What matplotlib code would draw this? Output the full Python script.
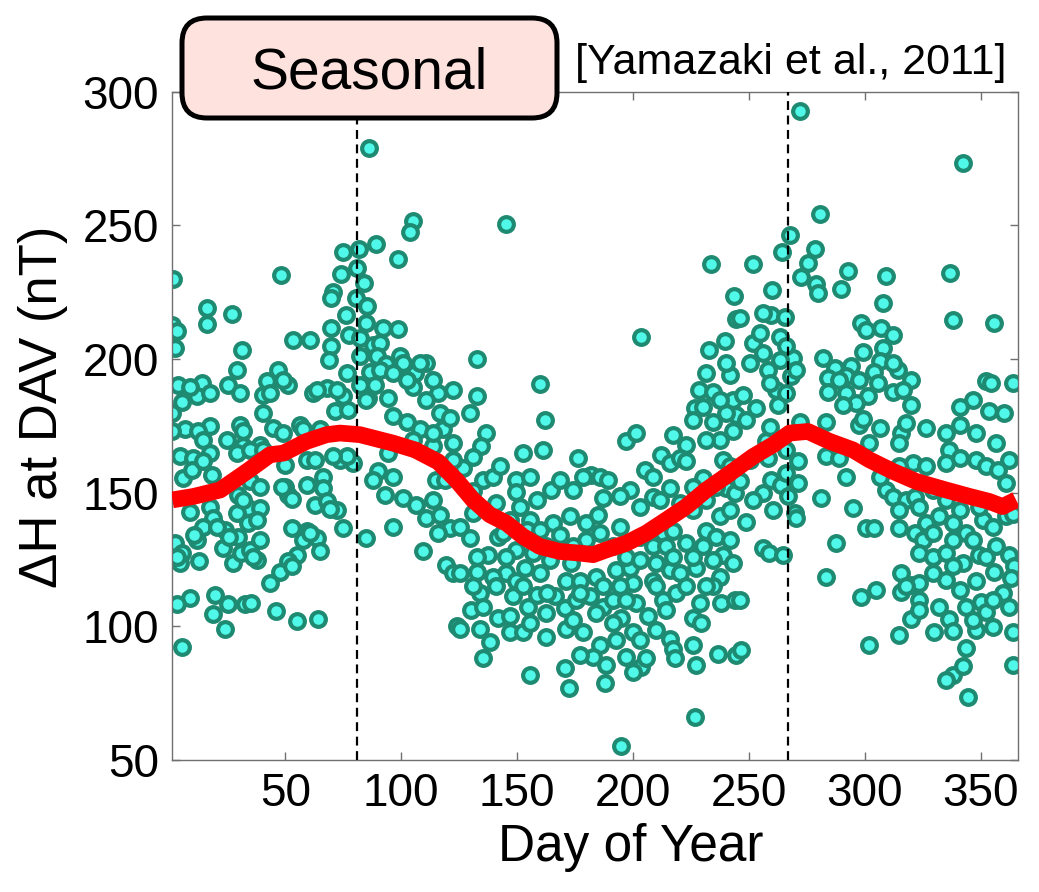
import matplotlib
matplotlib.use("Agg")
import matplotlib.pyplot as plt
from matplotlib.patches import FancyBboxPatch

# =====================================================
# DATA
# =====================================================

# clearly separated points
day = [
    86, 105, 104, 89, 98.7, 74.7, 81.9, 1.7, 48, 73.9, 81, 83.9, 70.7, 69.5, 80.7, 85.3,
    16.1, 16.1, 26.9, 1, 3.2, 2.4, 76.4, 85, 92.2, 98.7, 69.5, 77.6, 53.4, 60.6, 31.2, 29,
    25.4, 69.5, 68.9, 82.2, 87.9, 90.8, 89.4, 99.4, 100.9, 93.4, 110.9, 105.9, 86.5, 47, 42, 51.3,
    40.5, 3.9, 13.9, 11.8, 62.1, 67.8, 74.7, 82.2, 85.8, 88.7, 94.4, 105.2, 115.9,
    1, 5.3, 17.5, 6.8, 1, 12.5, 30.5, 40.5, 44.8, 49.1, 56.3, 57.8, 64.9, 71.4, 77.2, 85,
    96.6, 102.3, 108, 110.9, 118.1, 116.7, 122.4,
    14.7, 24.7, 31.9, 39.1, 4.6, 10.3, 17.5, 29, 34.8, 49.9, 59.2, 62.8, 73.6, 79, 76.6, 90.1,
    96.6, 94.4, 113.8, 115.2, 6, 9.6, 18.2, 34.8, 39.1, 59.2, 66.4, 66.4, 49.9, 51.3,
    8.9, 17.5, 29.7, 34, 39.1, 29, 19, 14.7, 24, 34, 37.6, 29.7, 62.8, 67.8, 72.1, 74.7,
    52.7, 59.2, 63.5, 57.8, 65, 85, 96.6, 93, 100.9, 106.6, 110.9, 116.7, 120.9, 115.9, 109.5,
    2.4, 5.3, 4.6, 12.9, 11.8, 23.1, 27.4, 31, 34.8, 37.6, 39.1, 54.9, 51.3, 47.8, 43.5, 119.5, 122.4,
    8.9, 3.2, 19.7, 25.4, 19, 24, 32.6, 35.4, 46.1, 54.9, 64.2, 5.3, 123.9,
    145.1, 233.8, 243.4, 244.6, 203.6, 239.9, 232.8, 242, 132.9, 159.8, 132.9, 228.7, 234.7, 243.1,
    226.6, 244.6,
    129.6, 136.8, 134.6, 161.9, 152.6, 161.2, 176.3, 197.1, 201.4, 217.2, 223, 230.2, 234.7, 237.5,
    243.2, 238.9,
    126.7, 135.3, 139.7, 131, 118.8, 149.7, 149.7, 164.8, 168.4, 158.4, 141.1, 151.1, 182.1, 185.7,
    189.3, 187.1, 198.6, 205, 212.2, 215.8, 220.1, 223, 230.2, 225.9, 215.8, 208.6, 202.9, 220.1,
    240.3, 243.9,
    131, 125.3, 129.6, 141.8, 137.5, 146.9, 155.5, 165.5, 172.7, 179.9, 184.9, 194.3, 168.4, 179.9,
    156.9, 162.6, 149.7, 202.9, 208.6, 212.9, 217.2, 223, 231.6, 237.4, 241.7, 236, 241.7, 238.9,
    243.2, 234.4,
    125.3, 132.5, 145.4, 139.7, 141.1, 149.7, 159.8, 153.3, 173.4, 171.3, 177, 184.2, 187.1, 192.8,
    198.6, 200, 208.6, 210, 215.8, 220.1, 227.2, 237.4, 234.5, 238.1, 243.9, 133.9, 130.3, 141.8,
    135.3, 148.3, 154.8, 158.4, 166.3, 162.6, 170.6, 175.6, 181.4, 187.1, 191.4, 195, 201.4, 206.4,
    212.9, 218.6, 225.8, 229.4,
    125.3, 146.8, 152.6, 162.6, 171.3, 178.5, 138.2, 135.3, 185.6, 192.8, 200, 182.8, 197.1, 203.6,
    200, 215.8, 217.2, 218, 227.2, 236.7, 244.6, 155.5, 170.6, 172.6, 187.8, 226.6, 195,
    271.9, 342.3, 280.9, 267.6, 264.4, 278.4, 275.5, 272.6, 279.1, 279.8, 292.7, 289.8, 309.2, 307.8,
    337, 338, 355.9, 251.8, 260.1, 246, 259.7, 265.4, 251.8, 263.3, 256.1, 269, 263.3, 258.2,
    268.3, 282, 287, 294.2, 284.1, 292, 298.5, 300.6, 307.1, 312.1, 299.2, 307.8, 306.4, 304.2,
    314.3, 320, 305.6, 312.1, 301.3, 284.1, 292, 261.8, 247.5, 352.3, 354.5, 363.8, 296.3, 346.6,
    253.2, 262.5, 271.9, 283.4, 290.6, 297.7, 306.4, 315.7, 320, 326.5, 340.9, 340.9, 353.8, 360.2,
    257.5, 258.2, 271.2, 283.4, 289.1, 302, 292, 336.5, 335.1, 340.9, 348, 356.7, 362.4, 352.3,
    357.4, 361, 320.7,
    246, 256.1, 259.7, 264, 271.2, 266.9, 269.7, 270.4, 281.2, 294.9, 309.2, 312.1, 317.9, 315,
    321.5, 329.4, 300.6, 304.2, 315, 248.9, 332.2, 326.5, 338, 343.7, 350.9, 349.5, 361, 364,
    321.5, 325.1,
    256.1, 258.9, 264.7, 287.7, 283.4, 323.6, 329.4, 335.1, 342.3, 349.5, 356.7, 362.4, 364.5, 355.9,
    363.1, 315.7, 320, 323.6, 335.1, 340.9, 348, 298.5, 304.9, 246, 315.7, 323.6, 350.2, 352.3, 359.5,
    320, 330.1, 336.5, 338, 343.7, 348, 364, 315, 302, 246.7, 338, 335.1, 342.3, 344.4, 363.8,
]

dh = [
    279, 251.5, 247.7, 243, 237.4, 239.9, 241.1, 229.9, 231.5, 231.9, 234, 228.4, 224.9, 222.8, 222.8, 219.7,
    219, 213, 216.8, 212.8, 210.3, 204.1, 216.5, 213.4, 211.6, 211.2, 211.6, 209.1, 207.2, 207.2, 203.4, 196,
    190.3, 204.7, 199.7, 207.8, 205.3, 205.9, 201, 201, 198.5, 198.2, 198.5, 194.7, 195.3, 196, 191.6, 190.3,
    186.6, 190.3, 191, 186, 187.2, 189.1, 186, 190.3, 185.4, 190.3, 185.4, 189.7, 187.2,
    179.7, 184.1, 175, 174, 172.9, 172.9, 175.4, 179.7, 174.1, 172.3, 175.4, 174, 174, 180.4, 181, 184.7,
    178.5, 176.6, 174, 184.6, 174, 179.7, 168.5,
    169.8, 169.8, 167.3, 167.9, 163.6, 163, 164.8, 164.8, 166, 160.4, 162.3, 162.3, 162.3, 161, 163.6, 158,
    156, 164.8, 167.3, 154.8, 155.4, 158.6, 156.7, 154.2, 152.3, 153, 156, 151.7, 152.3, 149.1,
    142.9, 144.8, 149.1, 144.2, 144.2, 142.3, 140.4, 137.3, 136, 138.5, 139.8, 133.6, 145.4, 146.7, 143.6, 136.7,
    136.7, 135.5, 133, 132.4, 128, 133, 137.3, 149.1, 147.9, 145.4, 140.4, 141.7, 136.7, 134.9, 128,
    131.1, 127.4, 123.6, 124.3, 132.4, 129.3, 123.6, 127.4, 128.6, 124.9, 132.4, 126.8, 124.3, 120.5, 116.2, 123, 120,
    110.7, 108.2, 111.9, 108.2, 104.5, 98.9, 108.2, 108.8, 105.7, 102, 102.6, 92.4, 100,
    250.5, 235.5, 223.7, 214.9, 208.4, 206.6, 203.2, 194.1, 200, 190.7, 186.2, 188.5, 187.8, 184.6,
    181.6, 179,
    179.7, 172.3, 167.3, 177.2, 164.8, 166, 162.9, 169.2, 172.3, 171.7, 168, 182.2, 176.6, 169.8,
    172.9, 162.3,
    159.1, 154.8, 156, 150.8, 154.8, 154.8, 150.4, 151, 154.8, 147.3, 146, 144.8, 156.7, 156,
    154.8, 147.9, 151, 158.6, 164.2, 161, 162.9, 161.7, 155.4, 152.3, 151.7, 148.5, 144.8, 146,
    151.7, 149.8,
    142.3, 137.3, 133, 133.6, 126.8, 139.8, 139.8, 138.5, 141.1, 138.5, 141.7, 137.3, 134.2, 132.4,
    127.4, 129.9, 128.6, 133.6, 129.9, 134.9, 135.5, 131.1, 135.5, 141.1, 143.6, 133.6, 132.4, 126.8,
    123.6, 124.9,
    119.9, 120.5, 119.9, 118.6, 114.9, 116.8, 119.9, 121.8, 123.6, 116.8, 116.8, 118.6, 114.9, 121.1,
    121.8, 116.2, 116.8, 123.6, 121.1, 119.9, 121.8, 118.6, 114.9, 108.7, 110, 112.4, 106.1, 103,
    107.4, 111.2, 107.4, 111.8, 111.2, 104.9, 106.8, 109.9, 111.2, 107.4, 109.9, 103, 108.7, 103.7,
    109.9, 112.4, 103, 101.1,
    99.1, 97.9, 97.9, 96, 99.1, 97.9, 94.2, 88, 92.9, 94.8, 97.9, 88.6, 88.6, 84.9,
    83, 95.4, 91.7, 88, 85.5, 89.8, 89.1, 81.8, 84.3, 76.8, 78.7, 66.2, 55.1,
    292.6, 273.3, 254.3, 246.5, 240, 241.2, 236.1, 230.6, 228.1, 224.7, 232.8, 226.1, 230.9, 220.9,
    232.1, 214.7, 213.4, 235.5, 225.9, 215.3, 216.5, 215.9, 205.9, 208.4, 202.2, 200.3, 199.7, 196,
    193.5, 200.3, 196.6, 197.2, 192.8, 193.5, 213.4, 210.9, 211.6, 209.1, 202.8, 204.1, 199.1, 195.3,
    196, 192.2, 191, 187.8, 186, 187.8, 187.2, 188.5, 186.6, 191.6, 191, 191, 183.5, 184.7,
    181.6, 182.9, 176.6, 176.6, 182.9, 175.4, 174.1, 172.3, 182.9, 174.1, 182.2, 175.4, 180.4, 179.7,
    169.2, 163, 161.7, 163.6, 162.9, 168.5, 156, 166, 161, 162.9, 162.3, 168.5, 162.3, 159.8,
    158.6, 153.6, 161,
    154.2, 149.8, 154.8, 152.9, 153.5, 148.6, 142.3, 140.5, 148, 144.2, 151, 148.5, 147.3, 143.6,
    148.5, 151, 136.7, 136.7, 136.7, 139.2, 141.1, 138.6, 138.6, 134.9, 139.8, 144.8, 141.1, 142,
    134.9, 132.4,
    129.3, 127.4, 126.8, 131.1, 118.6, 127.4, 126.1, 127.4, 123.6, 126.8, 129.9, 126.8, 122.4, 120.5,
    118, 119.9, 115.5, 116.2, 117.4, 113.6, 116.8, 111.1, 113.6, 110, 112.9, 109.9, 109.1, 105.3, 112.4,
    102.6, 97.9, 102.6, 98.1, 91.8, 98.5, 97.9, 96.6, 92.9, 91.1, 81.8, 80, 85, 73.7, 85.5,
]

# points hidden in the overlapping clusters
day_dense = [
    48.4, 52.8, 31.9, 40.5, 14.7, 70.7, 69.3, 31.9, 36.2, 25.5, 20.4, 10.4, 3.2, 60.7, 52.8,
    113.8, 121, 105.2, 88, 113.8, 122.4,
    76.5, 82.2, 90.8, 96.6, 102.3, 108.1, 113.8, 122.4, 63.5, 72.1, 43.4, 49.2, 8.9, 17.6, 30.5,
    144, 154.1, 159.8, 174.2, 185.7, 191.4, 197.2, 202.9, 214.4, 217.3, 225.9, 230.2, 164.1,
    152.6, 162.7, 177, 184.2, 197.2, 194.3, 210.1, 214.4, 223, 228.8, 231.6, 146.9, 155.5,
    174.2, 191.4, 202.9, 210.1, 177, 188.5, 205.8, 225.9, 133.9, 131.1, 132.5, 145.4,
    131, 142.6, 155.5, 174.2, 178.5, 194.3, 208.6, 211.5, 225.9, 231.6, 236, 241.7, 231.6,
    225.9, 240.3,
    237.4, 240.3, 231.6,
    254.6, 266.1, 270.4, 250.3, 259, 266.1, 256.1, 289.1, 297.7, 312.1, 316.4,
    248.9, 259, 266.1, 250.3, 266.1, 251.8, 260.4, 306.4, 315, 326.5, 323.6, 335.1, 340.9,
    346.6, 338, 329.4, 355.2, 352.3, 338, 329.4, 317.9, 323.6, 332.2, 343.7, 355.2, 362.4,
    346.6, 355.2, 315, 335.1, 348, 299.2, 317.9,
]

dh_dense = [
    152.1, 147.5, 172.9, 166, 162, 163.6, 144, 147.3, 126, 133.6, 137.3, 134.3, 126, 134.8, 122.4,
    172.3, 177.9, 169.8, 154.8, 147.3, 162.3,
    194.7, 201, 196, 194.7, 192.2, 198.5, 192.2, 188.5, 188.5, 188.5, 187.2, 192.2, 189.7, 187.2, 187.2,
    134.9, 136.1, 136.1, 129.9, 134.9, 129.9, 126.1, 124.9, 129.9, 126.1, 126.1, 129.9, 124.9,
    114.9, 112.4, 112.4, 104.9, 109.9, 114.9, 114.9, 106.1, 114.9, 108.7, 114.9, 103.7, 101.2,
    102.4, 101.2, 94.8, 98.6, 89.3, 85.5, 88, 93, 99.1, 114.9, 126.1, 126.1,
    163.5, 159.8, 156, 151, 156, 148.6, 156, 147.3, 143.6, 147.3, 152.3, 159.8, 169.8,
    177.2, 179.7,
    184.7, 198.5, 194.7,
    209.7, 204.7, 196, 198.5, 191, 187.2, 217.2, 192.2, 192.2, 198.5, 188.5,
    177.2, 174.7, 166, 162.3, 157.3, 147.3, 143.6, 156, 159.8, 159.8, 144.8, 147.3, 143.6,
    132.4, 132.4, 134.9, 137.3, 126.1, 122.4, 119.9, 114.9, 106.1, 107.4, 107.4, 109.9, 107.4,
    102.4, 99.9, 168.5, 172.3, 172.3, 177.4, 176,
]

# running mean (red curve)
mean_day = [1.3, 10.4, 21.9, 33.4, 43.4, 49.2, 59.2, 67.8, 73.6, 82.2, 96.6, 106, 116, 124,
            131, 138.3, 145.4, 152.6, 159.8, 168.4, 177, 182.8, 188.5, 197.2, 205.8, 214.4,
            223, 231.6, 240.3, 251.8, 260.4, 267.6, 275.5, 284.8, 294.9, 302, 312.1, 322.2,
            335.1, 345.2, 353.8, 359.5, 365.3]
mean_dh = [147.3, 148.6, 151, 157.9, 164.2, 164.8, 169.2, 171.7, 172.3, 171.7, 168.5, 166,
           161.5, 154.5, 147.3, 141.7, 138.6, 133.6, 129.9, 128, 127.4, 126.8, 128.6, 131.1,
           134.9, 139.8, 144.8, 151, 156.3, 163.5, 167.9, 172.3, 172.9, 169.2, 166, 162.3,
           158, 154.2, 151, 148.6, 146.7, 144.8, 147.3]

equinox_days = [81, 267]

xticks = [50, 100, 150, 200, 250, 300, 350]
yticks = [50, 100, 150, 200, 250, 300]

# =====================================================
# FIGURE
# =====================================================

plt.rcParams['font.family'] = ['Liberation Sans', 'DejaVu Sans']

fig = plt.figure(figsize=(10.39, 8.92), dpi=100)
ax = fig.add_axes([0.1653, 0.148, 0.8142, 0.7492])

ax.plot(day + day_dense, dh + dh_dense, 'o', ls='none', ms=10.6, mew=3.0,
        mfc='#50f8ea', mec='#1e8a72', zorder=2)

for d in equinox_days:
    ax.axvline(d, color='black', lw=1.6, ls=(0, (4, 2.5)), zorder=3)

ax.plot(mean_day, mean_dh, color='#ff0000', lw=12, solid_capstyle='butt',
        solid_joinstyle='round', zorder=4)

ax.set_xlim(1, 366)
ax.set_ylim(50, 300)
ax.set_xticks(xticks)
ax.set_yticks(yticks)

ax.tick_params(direction='in', length=6, width=1, colors='#707070',
               labelcolor='black', labelsize=33, top=True, right=True, pad=9)

for s in ax.spines.values():
    s.set_color('#707070')
    s.set_linewidth(1)

ax.set_xlabel('Day of Year', fontsize=37)
ax.set_ylabel('ΔH at DAV (nT)', fontsize=38)
ax.xaxis.set_label_coords(0.543, -0.095)
ax.yaxis.set_label_coords(-0.123, 0.528)

# =====================================================
# TITLE BOX AND REFERENCE
# =====================================================

box = FancyBboxPatch((1.82, 7.74), 3.75, 1.0,
                     boxstyle='round,pad=0,rounding_size=0.25',
                     transform=fig.dpi_scale_trans,
                     facecolor='#fde2de', edgecolor='black', lw=3.6,
                     clip_on=False, zorder=10)
fig.add_artist(box)

fig.text(3.695, 8.04, 'Seasonal', fontsize=41, ha='center', va='baseline',
         transform=fig.dpi_scale_trans, zorder=11)
fig.text(5.75, 8.18, '[Yamazaki et al., 2011]', fontsize=31, ha='left',
         va='baseline', transform=fig.dpi_scale_trans, zorder=11)

fig.savefig('out.png', dpi=100)
